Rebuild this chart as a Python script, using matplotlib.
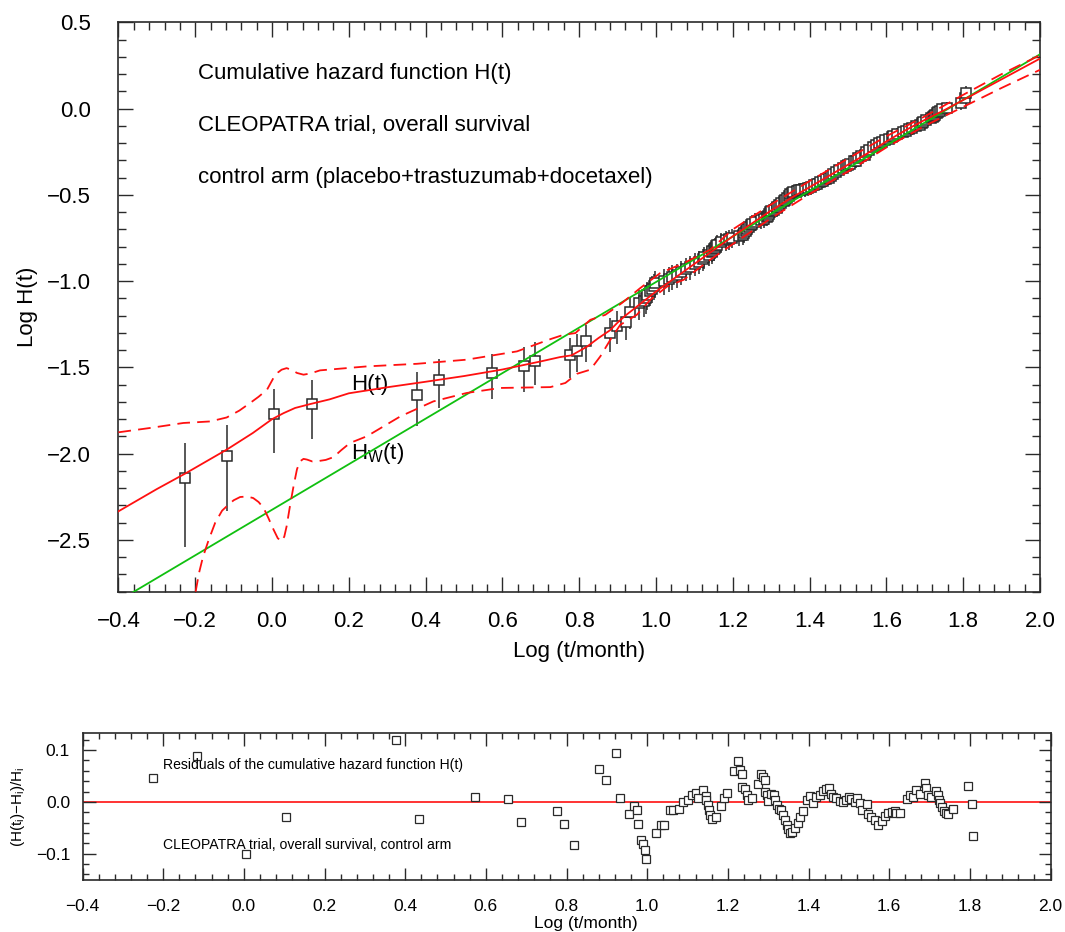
import matplotlib
matplotlib.use("Agg")
from matplotlib import pyplot as plt
from matplotlib.ticker import MultipleLocator, FuncFormatter
import numpy as np

plt.rcParams['font.family'] = ['Liberation Sans', 'DejaVu Sans']
plt.rcParams['mathtext.fontset'] = 'custom'
plt.rcParams['mathtext.rm'] = 'Liberation Sans'

# event times, log10(t/month)
t_log = [-0.226, -0.117, 0.006, 0.104, 0.377, 0.435, 0.574, 0.655, 0.686, 0.777,
         0.794, 0.818, 0.880, 0.899, 0.922, 0.933, 0.955, 0.968, 0.975, 0.977,
         0.985, 0.990, 0.995, 0.998, 1.021, 1.034, 1.042, 1.056, 1.065, 1.079,
         1.089, 1.102, 1.112, 1.122, 1.126, 1.139, 1.145, 1.147, 1.151, 1.154,
         1.156, 1.160, 1.170, 1.183, 1.191, 1.198, 1.216, 1.226, 1.230, 1.234,
         1.236, 1.242, 1.247, 1.250, 1.259, 1.274, 1.282, 1.288, 1.292, 1.293,
         1.298, 1.300, 1.308, 1.315, 1.316, 1.321, 1.326, 1.333, 1.337, 1.341,
         1.346, 1.350, 1.354, 1.358, 1.366, 1.373, 1.378, 1.387, 1.397, 1.403,
         1.411, 1.419, 1.428, 1.436, 1.444, 1.450, 1.455, 1.461, 1.469, 1.477,
         1.486, 1.494, 1.500, 1.506, 1.515, 1.521, 1.527, 1.533, 1.544, 1.548,
         1.556, 1.564, 1.572, 1.581, 1.589, 1.597, 1.606, 1.614, 1.618, 1.628,
         1.643, 1.651, 1.659, 1.667, 1.676, 1.688, 1.692, 1.696, 1.704, 1.717,
         1.721, 1.723, 1.727, 1.732, 1.735, 1.740, 1.746, 1.758, 1.795, 1.806,
         1.808]

# empirical log10 H_i
log_h = [-2.140, -2.013, -1.772, -1.712, -1.658, -1.571, -1.532, -1.494, -1.461, -1.430,
         -1.403, -1.349, -1.301, -1.259, -1.237, -1.178, -1.129, -1.115, -1.098, -1.081,
         -1.057, -1.043, -1.028, -1.013, -0.999, -0.986, -0.973, -0.963, -0.949, -0.928,
         -0.918, -0.898, -0.887, -0.873, -0.861, -0.847, -0.833, -0.826, -0.815, -0.807,
         -0.799, -0.789, -0.775, -0.764, -0.757, -0.750, -0.741, -0.734, -0.721, -0.712,
         -0.698, -0.688, -0.676, -0.666, -0.655, -0.644, -0.639, -0.628, -0.620, -0.608,
         -0.599, -0.591, -0.586, -0.575, -0.569, -0.558, -0.548, -0.537, -0.527, -0.518,
         -0.506, -0.496, -0.487, -0.484, -0.477, -0.472, -0.471, -0.464, -0.460, -0.456,
         -0.440, -0.434, -0.425, -0.417, -0.409, -0.401, -0.391, -0.380, -0.369, -0.356,
         -0.343, -0.334, -0.329, -0.319, -0.305, -0.301, -0.289, -0.275, -0.266, -0.252,
         -0.239, -0.225, -0.209, -0.201, -0.193, -0.184, -0.174, -0.164, -0.158, -0.145,
         -0.136, -0.130, -0.118, -0.115, -0.101, -0.094, -0.086, -0.076, -0.065, -0.055,
         -0.048, -0.041, -0.034, -0.026, -0.019, -0.011, -0.003, 0.006, 0.031, 0.059,
         0.090]

# relative standard error of H_i
rel_err = ([0.60, 0.52, 0.40, 0.37, 0.345, 0.315, 0.295, 0.29, 0.28, 0.257,
            0.245, 0.24, 0.225, 0.22, 0.21]
           + [0.20, 0.195, 0.19, 0.19, 0.185, 0.18, 0.18, 0.175, 0.175]
           + [0.17, 0.165, 0.165, 0.16, 0.16, 0.155, 0.155, 0.15, 0.15, 0.145]
           + [0.145, 0.14, 0.14, 0.14, 0.14, 0.14, 0.135, 0.135, 0.135, 0.13, 0.13, 0.13]
           + [0.125] * 5 + [0.12] * 5 + [0.115] * 4
           + [0.11] * 6 + [0.105] * 6 + [0.10] * 6
           + [0.097] * 7 + [0.094] * 7 + [0.09] * 6
           + [0.088] * 6 + [0.085] * 7
           + [0.082] * 8 + [0.08] * 9
           + [0.08, 0.08, 0.10])

# (H(t_i) - H_i) / H_i
resid = [0.047, 0.089, -0.100, -0.030, 0.120, -0.033, 0.009, 0.006, -0.038, -0.017,
         -0.043, -0.084, 0.063, 0.042, 0.094, 0.007, -0.024, -0.008, -0.015, -0.042,
         -0.073, -0.082, -0.092, -0.111, -0.060, -0.045, -0.044, -0.016, -0.015, -0.013,
         0.000, 0.003, 0.014, 0.018, 0.007, 0.022, 0.012, 0.003, -0.006, -0.016,
         -0.026, -0.033, -0.030, -0.008, 0.007, 0.017, 0.059, 0.079, 0.061, 0.054,
         0.029, 0.025, 0.013, 0.003, 0.007, 0.034, 0.053, 0.048, 0.042, 0.019,
         0.013, 0.002, 0.016, 0.013, 0.003, -0.006, -0.013, -0.016, -0.026, -0.035,
         -0.044, -0.053, -0.060, -0.058, -0.050, -0.040, -0.029, -0.018, 0.003, 0.012,
         -0.003, 0.010, 0.014, 0.021, 0.025, 0.026, 0.016, 0.010, 0.007, 0.002,
         0.000, 0.003, 0.010, 0.005, 0.000, 0.007, -0.003, -0.016, -0.005, -0.024,
         -0.029, -0.035, -0.045, -0.037, -0.027, -0.022, -0.019, -0.018, -0.021, -0.021,
         0.005, 0.013, 0.010, 0.023, 0.016, 0.036, 0.026, 0.013, 0.010, 0.021,
         0.013, 0.003, -0.003, -0.010, -0.018, -0.022, -0.024, -0.014, 0.030, -0.004,
         -0.066]

# fitted H(t) and its confidence band, log10
fit_x = [-0.4, -0.3, -0.226, -0.117, -0.05, 0.0, 0.03, 0.06, 0.1, 0.15,
         0.2, 0.3, 0.4, 0.5, 0.6, 0.7, 0.75, 0.78, 0.8, 0.82,
         0.85, 0.88, 0.9, 0.92, 0.94, 0.96, 0.98, 1.0, 1.05, 1.1,
         1.15, 1.2, 1.25, 1.3, 1.35, 1.4, 1.45, 1.5, 1.55, 1.6,
         1.65, 1.7, 1.75, 1.8, 1.9, 2.0]
fit_y = [-2.334, -2.205, -2.115, -1.975, -1.88, -1.80, -1.765, -1.735, -1.712, -1.685,
         -1.65, -1.615, -1.583, -1.55, -1.512, -1.465, -1.44, -1.43, -1.405, -1.38,
         -1.33, -1.285, -1.24, -1.20, -1.165, -1.13, -1.095, -1.06, -0.98, -0.90,
         -0.82, -0.74, -0.665, -0.59, -0.52, -0.455, -0.39, -0.325, -0.26, -0.19,
         -0.125, -0.065, -0.01, 0.05, 0.17, 0.29]

up_x = [-0.4, -0.318, -0.231, -0.161, -0.118, -0.085, -0.057, -0.035, -0.013, 0.004,
        0.015, 0.025, 0.038, 0.052, 0.065, 0.082, 0.1, 0.125, 0.247, 0.377,
        0.507, 0.638, 0.725, 0.759, 0.790, 0.829, 0.868, 0.911, 0.959, 1.011,
        1.072, 1.141, 1.2, 1.3, 1.4, 1.5, 1.6, 1.7, 1.8, 1.9, 2.0]
up_y = [-1.876, -1.851, -1.822, -1.813, -1.79, -1.75, -1.706, -1.67, -1.629, -1.56,
        -1.53, -1.513, -1.504, -1.515, -1.532, -1.542, -1.535, -1.517, -1.494, -1.479,
        -1.455, -1.407, -1.336, -1.311, -1.301, -1.224, -1.195, -1.127, -1.040, -0.953,
        -0.896, -0.818, -0.70, -0.555, -0.42, -0.29, -0.16, -0.045, 0.08, 0.20, 0.31]

lo_x = [-0.199, -0.19, -0.18, -0.165, -0.148, -0.13, -0.118, -0.10, -0.083, -0.065,
        -0.049, -0.035, -0.022, -0.01, 0.004, 0.015, 0.025, 0.032, 0.038, 0.047,
        0.056, 0.065, 0.073, 0.082, 0.091, 0.105, 0.117, 0.14, 0.16, 0.18,
        0.203, 0.247, 0.334, 0.420, 0.507, 0.594, 0.725, 0.764, 0.794, 0.829,
        0.855, 0.881, 0.907, 0.950, 0.985, 1.029, 1.072, 1.141, 1.2, 1.3,
        1.4, 1.5, 1.6, 1.7, 1.8, 1.9, 2.0]
lo_y = [-2.8, -2.69, -2.60, -2.50, -2.40, -2.33, -2.305, -2.27, -2.251, -2.248,
        -2.257, -2.28, -2.314, -2.37, -2.44, -2.49, -2.508, -2.48, -2.421, -2.30,
        -2.189, -2.09, -2.044, -2.03, -2.034, -2.045, -2.044, -2.036, -2.02, -1.98,
        -1.938, -1.899, -1.784, -1.697, -1.648, -1.619, -1.614, -1.59, -1.537, -1.513,
        -1.436, -1.34, -1.253, -1.195, -1.108, -1.031, -0.992, -0.876, -0.785, -0.635,
        -0.495, -0.365, -0.225, -0.10, 0.01, 0.12, 0.225]

# Weibull fit: log H_W = a + b * log t
weib_a = -2.325
weib_b = 1.32

RED = '#ff1010'
GREEN = '#10c010'
EDGE = '#2a2a2a'


def fmt(v, pos):
    return ('%.1f' % v).replace('-', '\u2212')


def style(ax, major, minor, ymajor, yminor, length, size, xpad, ypad):
    ax.xaxis.set_major_locator(MultipleLocator(major))
    ax.xaxis.set_minor_locator(MultipleLocator(minor))
    ax.yaxis.set_major_locator(MultipleLocator(ymajor))
    ax.yaxis.set_minor_locator(MultipleLocator(yminor))
    ax.xaxis.set_major_formatter(FuncFormatter(fmt))
    ax.yaxis.set_major_formatter(FuncFormatter(fmt))
    ax.tick_params(which='both', direction='in', top=True, right=True,
                   color=EDGE, width=1.0, labelsize=size)
    ax.tick_params(which='major', length=length)
    ax.tick_params(which='minor', length=length * 0.5)
    ax.tick_params(axis='x', pad=xpad)
    ax.tick_params(axis='y', pad=ypad)
    for s in ax.spines.values():
        s.set_color(EDGE)
        s.set_linewidth(1.2)


fig = plt.figure(figsize=(10.65, 9.32), dpi=100)
ax = fig.add_axes([0.1112, 0.3651, 0.8653, 0.6109])
ax2 = fig.add_axes([0.0775, 0.0563, 0.9089, 0.1572])

x = np.array(t_log)
lh = np.array(log_h)
rel = np.array(rel_err)
ax.vlines(x, lh + np.log10(1 - rel), lh + np.log10(1 + rel), color=EDGE, lw=1.1, zorder=2)
ax.plot(x, lh, 's', ms=7.5, mfc='white', mec=EDGE, mew=1.1, zorder=3)

xx = np.array([-0.4, 2.0])
ax.plot(xx, weib_a + weib_b * xx, color=GREEN, lw=1.3, zorder=4)
ax.plot(fit_x, fit_y, color=RED, lw=1.3, zorder=5)
ax.plot(up_x, up_y, color=RED, lw=1.3, dashes=(7, 4), zorder=5)
ax.plot(lo_x, lo_y, color=RED, lw=1.3, dashes=(7, 4), zorder=5)

ax.text(-0.193, 0.206, 'Cumulative hazard function H(t)', fontsize=16, va='center')
ax.text(-0.193, -0.095, 'CLEOPATRA trial, overall survival', fontsize=16, va='center')
ax.text(-0.193, -0.402, 'control arm (placebo+trastuzumab+docetaxel)', fontsize=16, va='center')
ax.text(0.205, -1.60, 'H(t)', fontsize=16, va='center')
ax.text(0.205, -2.00, r'H$_\mathregular{W}$(t)', fontsize=16, va='center')

ax.set_xlim(-0.4, 2.0)
ax.set_ylim(-2.8, 0.5)
style(ax, 0.2, 0.04, 0.5, 0.1, 11, 16, 14, 20)
ax.set_xlabel('Log (t/month)', fontsize=16, labelpad=6)
ax.set_ylabel('Log H(t)', fontsize=16, labelpad=6)

# residuals
ax2.axhline(0.0, color=RED, lw=1.2, zorder=1)
ax2.plot(x, resid, 's', ms=5.5, mfc='white', mec=EDGE, mew=0.9, zorder=3)
ax2.text(-0.2, 0.072, 'Residuals of the cumulative hazard function H(t)', fontsize=10.1, va='center')
ax2.text(-0.2, -0.083, 'CLEOPATRA trial, overall survival, control arm', fontsize=10.1, va='center')
ax2.set_xlim(-0.4, 2.0)
ax2.set_ylim(-0.15, 0.133)
style(ax2, 0.2, 0.04, 0.1, 0.02, 9, 12.5, 14, 9)
ax2.set_xlabel('Log (t/month)', fontsize=12.5)
ax2.xaxis.set_label_coords(0.52, -0.25)
ax2.set_ylabel('(H(t$_\\mathregular{i}$)\u2212H$_\\mathregular{i}$)/H$_\\mathregular{i}$', fontsize=11, labelpad=6)

fig.savefig('out.png', dpi=100)
